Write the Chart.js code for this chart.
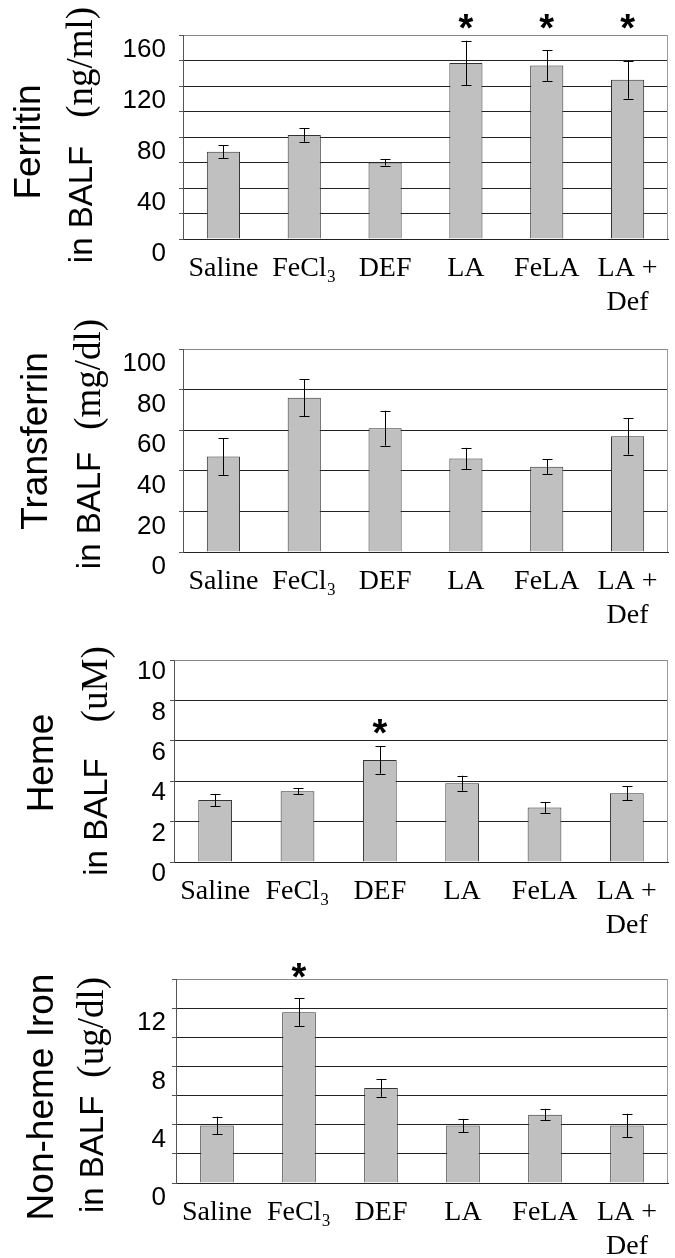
<!DOCTYPE html>
<html>
<head>
<meta charset="utf-8">
<script src="https://cdn.jsdelivr.net/npm/chart.js@4.4.1/dist/chart.umd.min.js"></script>
<style>
	body { margin: 0; background: #fff; }
	canvas { display: block; }
</style>
</head>
<body>
<canvas id="ferritinChart" width="675" height="320"></canvas>
<canvas id="transferrinChart" width="675" height="320"></canvas>
<canvas id="hemeChart" width="675" height="300"></canvas>
<canvas id="ironChart" width="675" height="318"></canvas>
<script>
// groups on the x axis
const groups = ["Saline", "FeCl₃", "DEF", "LA", "FeLA", ["LA +", "Def"]];

// Ferritin (ng/ml)
const ferritin = [68.5, 81.5, 60, 138, 136, 125];
const ferritinErr = [5.2, 5.2, 2.4, 17.5, 12, 15];
const ferritinStars = [false, false, false, true, true, true];

// Transferrin (mg/dl)
const transferrin = [47, 76, 61, 46, 42, 57];
const transferrinErr = [9, 9, 8.6, 5.3, 3.7, 9];
const transferrinStars = [false, false, false, false, false, false];

// Heme (uM)
const heme = [3.07, 3.5, 5.05, 3.9, 2.7, 3.4];
const hemeErr = [0.3, 0.15, 0.68, 0.37, 0.27, 0.35];
const hemeStars = [false, false, true, false, false, false];

// Non-heme iron (ug/dl)
const iron = [3.95, 11.72, 6.52, 3.95, 4.69, 3.95];
const ironErr = [0.6, 0.95, 0.6, 0.45, 0.4, 0.8];
const ironStars = [false, true, false, false, false, false];

const sans = "'Liberation Sans', Arial, sans-serif";
const serif = "'Liberation Serif', 'Times New Roman', serif";

// error bars + significance stars
const errorBars = {
	id: "errorBars",
	afterDatasetsDraw(chart, args, opts) {
		const ctx = chart.ctx;
		const yScale = chart.scales.y;
		const values = chart.data.datasets[0].data;
		const meta = chart.getDatasetMeta(0);
		let starTop = Infinity;

		ctx.save();
		ctx.strokeStyle = "#000";
		ctx.lineWidth = 1;
		meta.data.forEach((bar, i) => {
			const hi = yScale.getPixelForValue(values[i] + opts.errors[i]);
			const lo = yScale.getPixelForValue(values[i] - opts.errors[i]);
			const x = Math.round(bar.x) + 0.5;
			ctx.beginPath();
			ctx.moveTo(x, hi);
			ctx.lineTo(x, lo);
			ctx.moveTo(x - 5, Math.round(hi) + 0.5);
			ctx.lineTo(x + 5, Math.round(hi) + 0.5);
			ctx.moveTo(x - 5, Math.round(lo) + 0.5);
			ctx.lineTo(x + 5, Math.round(lo) + 0.5);
			ctx.stroke();
			if (opts.stars[i]) starTop = Math.min(starTop, hi);
		});

		ctx.fillStyle = "#000";
		ctx.font = "bold 38px " + sans;
		ctx.textAlign = "center";
		ctx.textBaseline = "alphabetic";
		meta.data.forEach((bar, i) => {
			if (!opts.stars[i]) return;
			const cy = starTop - opts.starGap;
			ctx.fillText("*", bar.x, cy + 38 * 0.58);
		});
		ctx.restore();
	},
};

// right border of the plot area
const plotBorder = {
	id: "plotBorder",
	beforeDatasetsDraw(chart) {
		const { ctx, chartArea } = chart;
		ctx.save();
		ctx.strokeStyle = "#999";
		ctx.lineWidth = 1;
		ctx.beginPath();
		ctx.moveTo(Math.round(chartArea.right) - 0.5, chartArea.top);
		ctx.lineTo(Math.round(chartArea.right) - 0.5, chartArea.bottom);
		ctx.stroke();
		ctx.restore();
	},
};

// two-line rotated y title, second line mixes sans + serif
const yTitle = {
	id: "yTitle",
	afterDraw(chart, args, opts) {
		const ctx = chart.ctx;
		ctx.save();
		ctx.fillStyle = "#000";
		ctx.textBaseline = "alphabetic";

		ctx.save();
		ctx.translate(opts.mainX, opts.mainY);
		ctx.rotate(-Math.PI / 2);
		ctx.font = "37px " + sans;
		ctx.textAlign = "center";
		ctx.fillText(opts.main, 0, 0);
		ctx.restore();

		ctx.save();
		ctx.translate(opts.subX, opts.subY);
		ctx.rotate(-Math.PI / 2);
		ctx.textAlign = "left";
		ctx.font = "33px " + sans;
		const w1 = ctx.measureText("in BALF").width;
		ctx.font = "37px " + serif;
		const w2 = ctx.measureText(opts.unit).width;
		const start = -(w1 + opts.gap + w2) / 2;
		ctx.font = "33px " + sans;
		ctx.fillText("in BALF", start, 0);
		ctx.font = "37px " + serif;
		ctx.fillText(opts.unit, start + w1 + opts.gap, 0);
		ctx.restore();

		ctx.restore();
	},
};

function makeChart(id, cfg) {
	const canvas = document.getElementById(id);
	const h = canvas.height;

	return new Chart(canvas.getContext("2d"), {
		type: "bar",
		data: {
			labels: groups,
			datasets: [
				{
					data: cfg.values,
					backgroundColor: "#c0c0c0",
					borderColor: "#333",
					borderWidth: 1,
					barPercentage: 0.41,
					categoryPercentage: 1,
				},
			],
		},
		options: {
			responsive: false,
			animation: false,
			devicePixelRatio: 1,
			layout: { padding: { top: cfg.top, right: 7, left: 0, bottom: 0 } },
			plugins: {
				legend: { display: false },
				tooltip: { enabled: false },
				errorBars: { errors: cfg.errors, stars: cfg.stars, starGap: cfg.starGap },
				yTitle: cfg.title,
			},
			scales: {
				x: {
					grid: { display: false, drawTicks: false },
					border: { color: "#222" },
					ticks: {
						color: "#000",
						font: { family: serif, size: 28, lineHeight: 1.2 },
						padding: 13,
						maxRotation: 0,
						autoSkip: false,
					},
					afterFit: (s) => {
						s.height = h - cfg.bottom;
					},
				},
				y: {
					min: 0,
					max: cfg.max,
					grid: {
						color: (c) => (c.tick && c.tick.value === cfg.max ? "#888" : "#222"),
						tickColor: "#555",
						tickLength: 4,
					},
					border: { color: "#555" },
					ticks: {
						stepSize: cfg.step,
						autoSkip: false,
						color: "#000",
						font: { family: sans, size: 26 },
						padding: cfg.tickPad,
						labelOffset: cfg.labelOffset,
						callback: (v) => (v % cfg.labelEvery === 0 ? v : ""),
					},
					afterFit: (s) => {
						s.width = cfg.left;
					},
				},
			},
		},
		plugins: [plotBorder, errorBars, yTitle],
	});
}

makeChart("ferritinChart", {
	values: ferritin,
	errors: ferritinErr,
	stars: ferritinStars,
	starGap: 22,
	max: 160,
	step: 20,
	labelEvery: 40,
	top: 35,
	bottom: 239,
	left: 183,
	tickPad: 13,
	labelOffset: 15,
	title: { main: "Ferritin", mainX: 40, mainY: 142, unit: "(ng/ml)", subX: 92, subY: 135, gap: 28 },
});

makeChart("transferrinChart", {
	values: transferrin,
	errors: transferrinErr,
	stars: transferrinStars,
	starGap: 22,
	max: 100,
	step: 20,
	labelEvery: 20,
	top: 29,
	bottom: 232,
	left: 183,
	tickPad: 13,
	labelOffset: 15,
	title: { main: "Transferrin", mainX: 47, mainY: 121, unit: "(mg/dl)", subX: 100, subY: 124, gap: 22 },
});

makeChart("hemeChart", {
	values: heme,
	errors: hemeErr,
	stars: hemeStars,
	starGap: 22,
	max: 10,
	step: 2,
	labelEvery: 2,
	top: 20,
	bottom: 222,
	left: 174,
	tickPad: 4,
	labelOffset: 12,
	title: { main: "Heme", mainX: 53, mainY: 123, unit: "(uM)", subX: 107, subY: 121, gap: 36 },
});

makeChart("ironChart", {
	values: iron,
	errors: ironErr,
	stars: ironStars,
	starGap: 30,
	max: 14,
	step: 2,
	labelEvery: 4,
	top: 39,
	bottom: 243,
	left: 176,
	tickPad: 6,
	labelOffset: 15,
	title: { main: "Non-heme Iron", mainX: 53, mainY: 157, unit: "(ug/dl)", subX: 103, subY: 155, gap: 18 },
});
</script>
</body>
</html>
